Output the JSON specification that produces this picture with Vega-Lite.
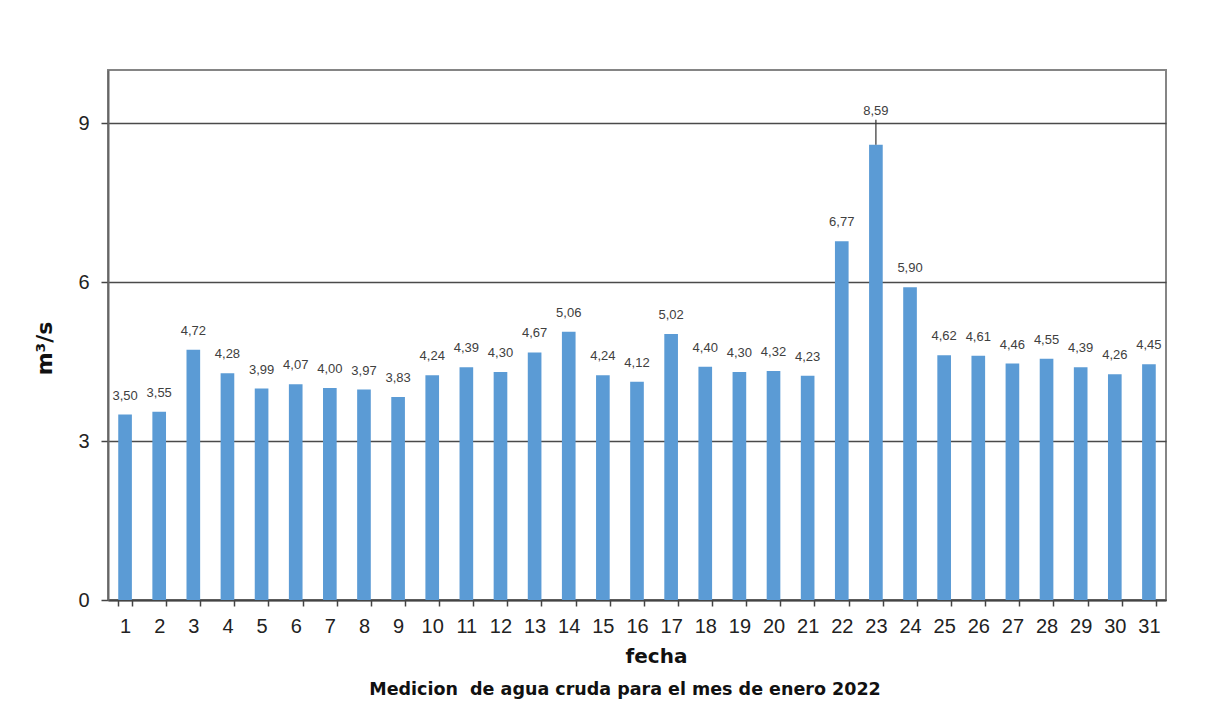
{
  "$schema": "https://vega.github.io/schema/vega-lite/v6.json",
  "width": 1058,
  "height": 530,
  "autosize": {"type": "none"},
  "padding": {"left": 108, "top": 70, "right": 40, "bottom": 121},
  "background": "white",
  "title": {
    "text": "Medicion \u00a0de agua cruda para el mes de enero 2022",
    "orient": "bottom",
    "anchor": "middle",
    "font": "DejaVu Sans",
    "fontSize": 17.5,
    "fontWeight": "bold",
    "color": "#111111",
    "offset": 15,
    "dx": -12
  },
  "data": {
    "values": [
      {"dia": 1, "caudal": 3.50}, {"dia": 2, "caudal": 3.55}, {"dia": 3, "caudal": 4.72},
      {"dia": 4, "caudal": 4.28}, {"dia": 5, "caudal": 3.99}, {"dia": 6, "caudal": 4.07},
      {"dia": 7, "caudal": 4.00}, {"dia": 8, "caudal": 3.97}, {"dia": 9, "caudal": 3.83},
      {"dia": 10, "caudal": 4.24}, {"dia": 11, "caudal": 4.39}, {"dia": 12, "caudal": 4.30},
      {"dia": 13, "caudal": 4.67}, {"dia": 14, "caudal": 5.06}, {"dia": 15, "caudal": 4.24},
      {"dia": 16, "caudal": 4.12}, {"dia": 17, "caudal": 5.02}, {"dia": 18, "caudal": 4.40},
      {"dia": 19, "caudal": 4.30}, {"dia": 20, "caudal": 4.32}, {"dia": 21, "caudal": 4.23},
      {"dia": 22, "caudal": 6.77}, {"dia": 23, "caudal": 8.59}, {"dia": 24, "caudal": 5.90},
      {"dia": 25, "caudal": 4.62}, {"dia": 26, "caudal": 4.61}, {"dia": 27, "caudal": 4.46},
      {"dia": 28, "caudal": 4.55}, {"dia": 29, "caudal": 4.39}, {"dia": 30, "caudal": 4.26},
      {"dia": 31, "caudal": 4.45}
    ]
  },
  "encoding": {
    "x": {
      "field": "dia",
      "type": "ordinal",
      "sort": "ascending",
      "scale": {"paddingInner": 0.6, "paddingOuter": 0.3},
      "axis": {
        "title": "fecha",
        "titleFont": "DejaVu Sans",
        "titleFontSize": 20,
        "titleFontWeight": "bold",
        "titleColor": "#111111",
        "titlePadding": 10,
        "titleX": 548,
        "titleAlign": "center",
        "labelFont": "Liberation Sans",
        "labelFontSize": 20,
        "labelColor": "#222222",
        "labelAngle": 0,
        "labelPadding": 10,
        "tickBand": "extent",
        "tickSize": 6,
        "tickColor": "#444444",
        "tickWidth": 1.5,
        "domainColor": "#444444",
        "domainWidth": 2,
        "grid": false
      }
    },
    "y": {
      "field": "caudal",
      "type": "quantitative",
      "scale": {"domain": [0, 10], "nice": false},
      "axis": {
        "title": "m³/s",
        "titleFont": "DejaVu Sans",
        "titleFontSize": 22,
        "titleFontWeight": "bold",
        "titleColor": "#111111",
        "titlePadding": 21,
        "titleY": 278,
        "labelFont": "Liberation Sans",
        "values": [0, 3, 6, 9],
        "labelFontSize": 20,
        "labelColor": "#222222",
        "labelPadding": 12,
        "tickSize": 7,
        "tickColor": "#444444",
        "tickWidth": 1.5,
        "domainColor": "#666666",
        "domainWidth": 2,
        "grid": true,
        "gridColor": "#4a4a4a",
        "gridWidth": 1.6
      }
    }
  },
  "layer": [
    {
      "mark": {"type": "bar", "color": "#5b9bd5"}
    },
    {
      "transform": [{"filter": "datum.dia != 23"}],
      "mark": {
        "type": "text",
        "baseline": "bottom",
        "dy": -12,
        "font": "Liberation Sans",
        "fontSize": 13,
        "color": "#404040"
      },
      "encoding": {
        "text": {"field": "caudal", "type": "quantitative", "format": ".2f"}
      }
    },
    {
      "transform": [{"filter": "datum.dia == 23"}],
      "mark": {"type": "rule", "color": "#333333", "strokeWidth": 1.2},
      "encoding": {
        "y2": {"datum": 9.06}
      }
    },
    {
      "transform": [{"filter": "datum.dia == 23"}],
      "mark": {
        "type": "text",
        "baseline": "bottom",
        "dy": -2,
        "font": "Liberation Sans",
        "fontSize": 13,
        "color": "#404040"
      },
      "encoding": {
        "y": {"datum": 9.06},
        "text": {"field": "caudal", "type": "quantitative", "format": ".2f"}
      }
    }
  ],
  "config": {
    "locale": {
      "number": {"decimal": ",", "thousands": ".", "grouping": [3], "currency": ["", " €"]}
    },
    "view": {"stroke": "#858585", "strokeWidth": 2}
  }
}
